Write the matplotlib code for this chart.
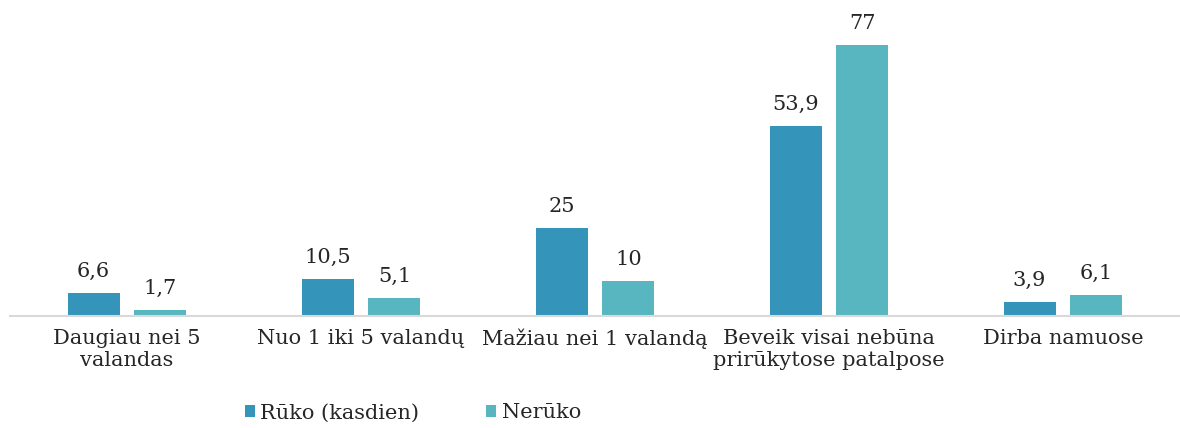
import matplotlib
matplotlib.use("Agg")
import matplotlib.pyplot as plt
import numpy as np

categories = ["Daugiau nei 5\nvalandas", "Nuo 1 iki 5 valandų", "Mažiau nei 1 valandą",
              "Beveik visai nebūna\nprirūkytose patalpose", "Dirba namuose"]
ruko = [6.6, 10.5, 25, 53.9, 3.9]
neruko = [1.7, 5.1, 10, 77, 6.1]
series_names = ["Rūko (kasdien)", "Nerūko"]
labels_ruko = ["6,6", "10,5", "25", "53,9", "3,9"]
labels_neruko = ["1,7", "5,1", "10", "77", "6,1"]

c1 = "#3494BA"
c2 = "#58B6C0"
txt = "#262626"
plt.rcParams['font.family'] = ['DejaVu Serif']

fig = plt.figure(figsize=(11.8, 4.28), dpi=100)
ax = fig.add_axes([10/1180, 1 - 316/428, 1170/1180, 306/428])
x = np.arange(len(categories))
w = 0.222
off = 0.143
b1 = ax.bar(x - off, ruko, w, color=c1, label=series_names[0])
b2 = ax.bar(x + off, neruko, w, color=c2, label=series_names[1])
for bars, labs in ((b1, labels_ruko), (b2, labels_neruko)):
    for rect, lab in zip(bars, labs):
        ax.annotate(lab, (rect.get_x() + rect.get_width()/2, rect.get_height()),
                    xytext=(0, 15.5), textcoords="offset points", ha="center", va="center",
                    fontsize=15, color=txt)
ax.set_xlim(-0.5, len(categories) - 0.5)
ax.set_ylim(0, 87)
ax.set_xticks(x)
ax.set_xticklabels(categories, fontsize=15, color=txt, linespacing=1.25)
ax.tick_params(axis='x', length=0, pad=9)
ax.set_yticks([])
for s in ["top", "right", "left"]:
    ax.spines[s].set_visible(False)
ax.spines["bottom"].set_color("#D9D9D9")
ax.spines["bottom"].set_linewidth(1.5)
leg = fig.legend(loc="center left", bbox_to_anchor=(226/1180, 1 - 413/428), ncol=2,
                 frameon=False, fontsize=15, handlelength=0.5, handleheight=0.5,
                 handletextpad=0.25, columnspacing=3.2, labelcolor=txt)
fig.savefig("out.png", dpi=100)
